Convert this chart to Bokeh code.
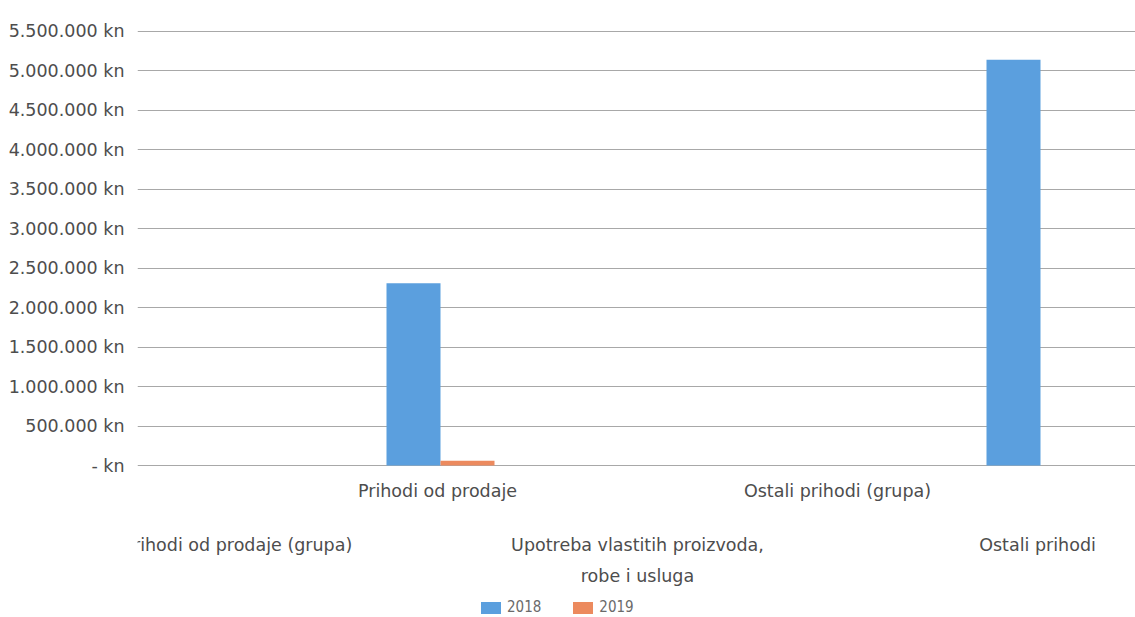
from bokeh.plotting import figure
from bokeh.models import (ColumnDataSource, LinearAxis, FixedTicker, Legend,
                          LegendItem, Range1d, Grid)
from bokeh.core.properties import value
from bokeh.transform import dodge
from bokeh.embed import file_html
from bokeh.resources import INLINE

# ---- data ----
categories = [
    "Prihodi od prodaje (grupa)",
    "Prihodi od prodaje",
    "Upotreba vlastitih proizvoda,\nrobe i usluga",
    "Ostali prihodi (grupa)",
    "Ostali prihodi",
]
values_2018 = [0, 2310000, 0, 0, 5140000]
values_2019 = [0, 60000, 0, 0, 0]
series_names = ["2018", "2019"]
y_ticks = [0, 500000, 1000000, 1500000, 2000000, 2500000, 3000000,
           3500000, 4000000, 4500000, 5000000, 5500000]
y_tick_labels = ["- kn", "500.000 kn", "1.000.000 kn", "1.500.000 kn",
                 "2.000.000 kn", "2.500.000 kn", "3.000.000 kn",
                 "3.500.000 kn", "4.000.000 kn", "4.500.000 kn",
                 "5.000.000 kn", "5.500.000 kn"]

# ---- style / layout ----
BLUE = "#5b9fde"
ORANGE = "#ec8a5e"
TEXT = "#4d4d4d"
GRID = "#a8a8a8"
FONT = "DejaVu Sans"
FSIZE = "17.5px"
Y_END = 5512000
FRAME_H = 587          # frame spans the whole area below the top border
ZERO_PX = 435          # pixel distance from frame top to the zero line
Y_START = -Y_END * (FRAME_H - ZERO_PX) / ZERO_PX
ROW1_PX, ROW2_PX, ROW3_PX = 460, 514, 545   # label rows, px below frame top

positions = [i + 0.5 for i in range(len(categories))]
source = ColumnDataSource(dict(pos=positions, v2018=values_2018, v2019=values_2019))

p = figure(frame_width=998, frame_height=FRAME_H,
           x_range=Range1d(0, 4.99), y_range=Range1d(Y_START, Y_END),
           output_backend="svg", toolbar_location=None,
           x_axis_location=None, y_axis_location=None,
           min_border_left=137, min_border_right=0,
           min_border_top=30, min_border_bottom=0)
p.outline_line_color = None
p.background_fill_color = "white"
p.border_fill_color = "white"
p.center = [c for c in p.center if not isinstance(c, Grid)]
p.extra_y_ranges = {"px": Range1d(start=FRAME_H, end=0)}

r1 = p.vbar(x=dodge("pos", -0.12), top="v2018", width=0.27, source=source,
            fill_color=BLUE, line_color=None)
r2 = p.vbar(x=dodge("pos", 0.15), top="v2019", width=0.27, source=source,
            fill_color=ORANGE, line_color=None)

# y axis
yax = LinearAxis(ticker=FixedTicker(ticks=y_ticks),
                 major_label_overrides={t: l for t, l in zip(y_ticks, y_tick_labels)})
yax.axis_line_color = None
yax.major_tick_line_color = None
yax.minor_tick_line_color = None
yax.major_label_standoff = 7
yax.major_label_text_font = FONT
yax.major_label_text_font_size = FSIZE
yax.major_label_text_color = TEXT
p.add_layout(yax, "left")

# horizontal grid only
p.add_layout(Grid(dimension=1, ticker=yax.ticker, grid_line_color=GRID,
                  grid_line_width=1))

# category labels, staggered in two rows (Excel style)
row1 = [1, 3]
row2 = [0, 2, 4]
first_lines = [c.split("\n")[0] for c in categories]
second_idx = [i for i, c in enumerate(categories) if "\n" in c]
second_lines = [categories[i].split("\n")[1] for i in second_idx]

label_kw = dict(y_range_name="px", text_align="center", text_baseline="middle",
                text_font=value(FONT), text_font_size=FSIZE, text_color=TEXT)
p.text(x=[positions[i] for i in row1], y=[ROW1_PX] * len(row1),
       text=[first_lines[i] for i in row1], **label_kw)
p.text(x=[positions[i] for i in row2], y=[ROW2_PX] * len(row2),
       text=[first_lines[i] for i in row2], **label_kw)
p.text(x=[positions[i] for i in second_idx], y=[ROW3_PX] * len(second_idx),
       text=second_lines, **label_kw)

legend = Legend(items=[LegendItem(label=series_names[0], renderers=[r1]),
                       LegendItem(label=series_names[1], renderers=[r2])],
                orientation="horizontal", location=(341, 1))
legend.border_line_color = None
legend.background_fill_alpha = 0
legend.glyph_width = 25
legend.glyph_height = 15
legend.label_standoff = 4
legend.spacing = 29
legend.padding = 0
legend.margin = 0
legend.label_text_font = "DejaVu Sans Condensed"
legend.label_text_font_size = "15px"
legend.label_text_color = "#6a6a6a"
p.add_layout(legend, "center")

open("out.html", "w").write(file_html(p, INLINE))
